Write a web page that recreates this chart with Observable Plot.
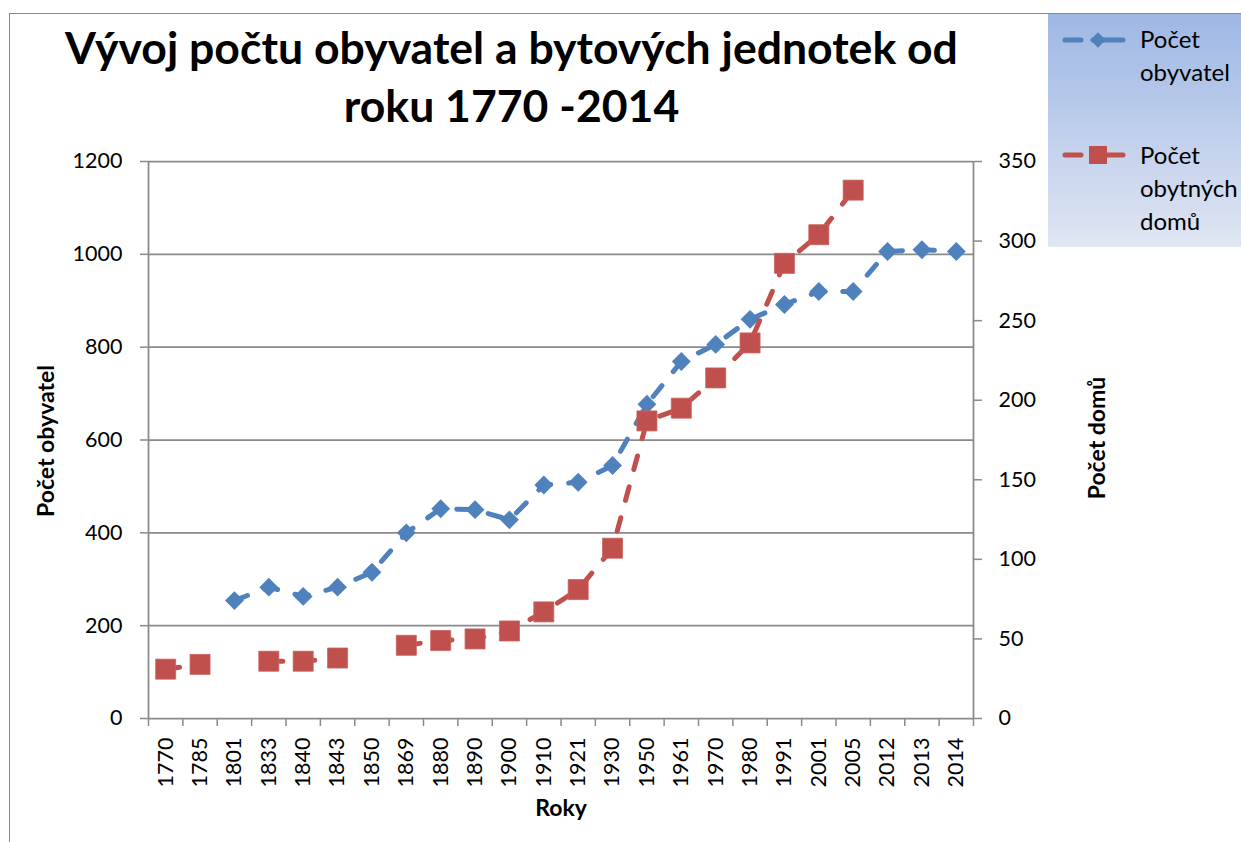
<!DOCTYPE html>
<html>
<head>
<meta charset="utf-8">
<script src="https://cdn.jsdelivr.net/npm/d3@7"></script>
<script src="https://cdn.jsdelivr.net/npm/@observablehq/plot@0.6"></script>
<style>
  html, body { margin: 0; padding: 0; background: #fff; }
  #wrap { position: relative; width: 1241px; height: 842px; overflow: hidden; font-family: Lato, "Open Sans", sans-serif; }
  #frame { position: absolute; left: 9px; top: 13px; right: -5px; bottom: -5px; border-top: 1.5px solid #878787; border-left: 1.5px solid #878787; }
  #title { position: relative; height: 140px; width: 1023px; text-align: center; font-weight: 700; font-size: 39px; line-height: 58px; padding-top: 18px; box-sizing: border-box; color: #000; white-space: nowrap; }
  #chart { position: relative; }
  #legend { position: absolute; left: 1048px; top: 14px; width: 193px; height: 233px; background: linear-gradient(to bottom, #9EB7E4, #E0E6F3); }
  .item { position: absolute; left: 0; width: 193px; }
  .item svg { position: absolute; left: 0; top: 0; }
  .item .lab { position: absolute; left: 92px; font-size: 24px; line-height: 33px; color: #000; white-space: nowrap; }
</style>
</head>
<body>
<div id="wrap">
  <div id="frame"></div>
  <div id="title"><span id="t1">Vývoj počtu obyvatel a bytových jednotek od</span><br><span>roku 1770 -2014</span></div>
  <div id="chart"></div>
  <div id="legend"></div>
</div>
<script>
// ---- data ----
const years = ["1770","1785","1801","1833","1840","1843","1850","1869","1880","1890","1900","1910","1921","1930","1950","1961","1970","1980","1991","2001","2005","2012","2013","2014"];
const obyvatel = [null,null,254,283,263,283,315,400,452,450,428,503,509,545,677,769,806,860,892,920,920,1006,1010,1006];
const domy = [31,34,null,36,36,38,null,46,49,50,55,67,81,107,187,195,214,236,286,304,332,null,null,null];
const leftTicks = [0,200,400,600,800,1000,1200];
const rightTicks = [0,50,100,150,200,250,300,350];
const seriesNames = ["Počet obyvatel", "Počet obytných domů"];

const blue = "#4F81BD", red = "#C0504D", gridColor = "#8a8a8a";
const k = 1200 / 350; // secondary axis mapping

const rows = years.map((y, i) => ({
  pos: i + 0.5,
  year: y,
  pop: obyvatel[i],
  houses: domy[i] == null ? null : domy[i] * k
}));

// ---- title fit ----
const t1 = document.getElementById("t1");
const titleDiv = document.getElementById("title");
const w1 = t1.getBoundingClientRect().width;
if (w1 > 0) titleDiv.style.fontSize = (39 * 893 / w1).toFixed(2) + "px";

const lineStyle = {strokeWidth: 5, strokeDasharray: "14,18", strokeLinecap: "round", strokeLinejoin: "round"};

const chart = Plot.plot({
  width: 1241,
  height: 702,
  marginTop: 21,
  marginBottom: 124,
  marginLeft: 148,
  marginRight: 268,
  style: {fontFamily: "Lato, 'Open Sans', sans-serif", fontSize: "21.5px", color: "#000", background: "transparent", overflow: "visible"},
  x: {type: "linear", domain: [0, years.length], axis: null},
  y: {domain: [0, 1200], axis: null},
  marks: [
    Plot.ruleY(leftTicks, {stroke: gridColor, strokeWidth: 1.75}),
    Plot.ruleX([0, years.length], {stroke: gridColor, strokeWidth: 1.75}),
    Plot.axisY({anchor: "left", ticks: leftTicks, tickSize: 8, tickPadding: 18, stroke: gridColor, strokeWidth: 1.5, tickFormat: d => String(d), label: null}),
    Plot.axisY({anchor: "right", ticks: rightTicks.map(v => v * k), tickSize: 8, tickPadding: 17, stroke: gridColor, strokeWidth: 1.5, tickFormat: v => String(Math.round(v / k)), label: null}),
    Plot.axisX({anchor: "bottom", ticks: d3.range(0, years.length + 1), tickSize: 8, stroke: gridColor, strokeWidth: 1.5, tickFormat: () => "", label: null}),
    Plot.axisX({anchor: "bottom", ticks: years.map((_, i) => i + 0.5), tickSize: 0, tickPadding: 19, tickRotate: -90, tickFormat: d => years[Math.floor(d)], label: null}),
    Plot.line(rows, {x: "pos", y: "pop", stroke: blue, ...lineStyle}),
    Plot.dot(rows, {x: "pos", y: "pop", symbol: "diamond2", r: 8.5, fill: blue, stroke: null}),
    Plot.line(rows, {x: "pos", y: "houses", stroke: red, ...lineStyle}),
    Plot.dot(rows, {x: "pos", y: "houses", symbol: "square", r: 11.3, fill: red, stroke: "#c9625f", strokeWidth: 0.8}),
    Plot.text(["Počet obyvatel"], {text: d => d, frameAnchor: "left", textAnchor: "middle", rotate: -90, dx: -102, dy: 1, fontWeight: 700, fontSize: 23}),
    Plot.text(["Počet domů"], {text: d => d, frameAnchor: "right", textAnchor: "middle", rotate: -90, dx: 124, dy: -2, fontWeight: 700, fontSize: 23}),
    Plot.text(["Roky"], {text: d => d, frameAnchor: "bottom", textAnchor: "middle", dy: 97, fontWeight: 700, fontSize: 23})
  ]
});
document.getElementById("chart").appendChild(chart);

// ---- legend ----
const legend = document.getElementById("legend");
const items = [
  {color: blue, shape: "diamond", lines: ["Počet", "obyvatel"], top: 0, sampleY: 26},
  {color: red, shape: "square", lines: ["Počet", "obytných", "domů"], top: 116, sampleY: 25}
];
items.forEach(it => {
  const div = document.createElement("div");
  div.className = "item";
  div.style.top = it.top + "px";
  const ns = "http://www.w3.org/2000/svg";
  const svg = document.createElementNS(ns, "svg");
  svg.setAttribute("width", 90); svg.setAttribute("height", 60);
  const ln = document.createElementNS(ns, "line");
  ln.setAttribute("x1", 17); ln.setAttribute("x2", 75);
  ln.setAttribute("y1", it.sampleY); ln.setAttribute("y2", it.sampleY);
  ln.setAttribute("stroke", it.color); ln.setAttribute("stroke-width", 5); ln.setAttribute("stroke-linecap", "round");
  ln.setAttribute("stroke-dasharray", "16,12,60");
  svg.appendChild(ln);
  const sym = document.createElementNS(ns, "path");
  const size = it.shape === "diamond" ? 150 : 324;
  const type = it.shape === "diamond" ? d3.symbolDiamond2 : d3.symbolSquare;
  sym.setAttribute("d", d3.symbol(type, size)());
  sym.setAttribute("transform", `translate(50,${it.sampleY})`);
  sym.setAttribute("fill", it.color);
  svg.appendChild(sym);
  div.appendChild(svg);
  const lab = document.createElement("div");
  lab.className = "lab";
  lab.style.top = "8px";
  lab.innerHTML = it.lines.join("<br>");
  div.appendChild(lab);
  legend.appendChild(div);
});
</script>
</body>
</html>
